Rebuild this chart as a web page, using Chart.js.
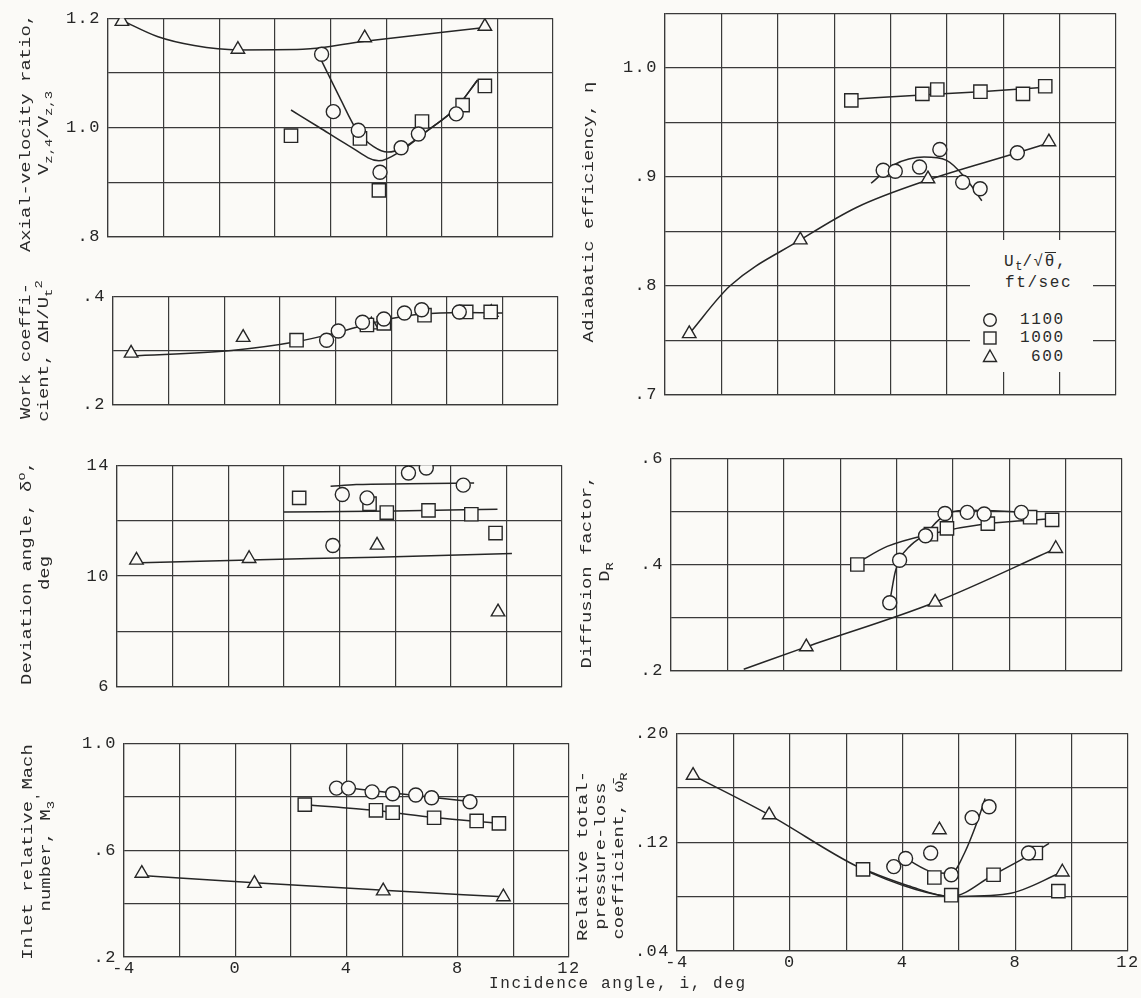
<!DOCTYPE html>
<html><head><meta charset="utf-8">
<script src="https://cdn.jsdelivr.net/npm/chart.js@4.4.1/dist/chart.umd.min.js"></script>
<style>
body{margin:0;background:#fbfaf7;width:1141px;height:998px;position:relative;overflow:hidden;color:#2a2a2a;font-family:"Liberation Mono","DejaVu Sans Mono",monospace}
canvas{position:absolute}
.yt{position:absolute;transform:rotate(-90deg) scaleX(1.26);font-size:15px;line-height:18px;text-align:center;white-space:nowrap}
.yt sub,.yt sup{font-size:11px;line-height:0}
.txt{position:absolute;font-size:16px;letter-spacing:1.6px;white-space:nowrap;line-height:18px}
.mk{position:absolute}
</style></head><body>
<canvas id="c1"></canvas><canvas id="c2"></canvas><canvas id="c3"></canvas><canvas id="c4"></canvas>
<canvas id="c5"></canvas><canvas id="c6"></canvas><canvas id="c7"></canvas>
<div id="overlay">
<div style="position:absolute;left:970px;top:240px;width:123px;height:132px;background:#fbfaf7"></div>
<div class="txt" style="left:1004px;top:253px">U<sub style="font-size:12px;letter-spacing:0">t</sub>/√<span style="text-decoration:overline">θ</span>,</div>
<div class="txt" style="left:1005px;top:274px">ft/sec</div>
<svg class="mk" style="left:982px;top:312px" width="16" height="16"><circle cx="8" cy="8" r="6.3" fill="none" stroke="#262626" stroke-width="1.4"/></svg>
<div class="txt" style="left:1020px;top:311px">1100</div>
<svg class="mk" style="left:982px;top:330px" width="16" height="16"><rect x="2" y="2" width="12" height="12" fill="none" stroke="#262626" stroke-width="1.4"/></svg>
<div class="txt" style="left:1020px;top:329px">1000</div>
<svg class="mk" style="left:982px;top:348px" width="16" height="16"><polygon points="8,2 14.5,13.5 1.5,13.5" fill="none" stroke="#262626" stroke-width="1.4"/></svg>
<div class="txt" style="left:1031px;top:348px">600</div>
<div class="txt" style="left:489px;top:975px">Incidence angle, i, deg</div>
</div>
<script>
// ---- shared axis ----
const incTickValues = [-4, 0, 4, 8, 12];
const incTickText = ['-4', '0', '4', '8', '12'];

// ---- Axial-velocity ratio ----
const avrTickValues = [1.2, 1.0, 0.8];
const avrTickText = ['1.2', '1.0', '.8'];
const avr1100I = [3.68, 4.10, 5.00, 5.78, 6.54, 7.16, 8.52];
const avr1100V = [1.134, 1.029, 0.995, 0.918, 0.963, 0.988, 1.025];
const avr1000I = [2.58, 5.06, 5.74, 7.29, 8.75, 9.55];
const avr1000V = [0.985, 0.980, 0.885, 1.011, 1.041, 1.076];
const avr600I = [-3.50, 0.67, 5.23, 9.55];
const avr600V = [1.194, 1.143, 1.164, 1.185];
const avrFit1100I = [3.68, 4.32, 4.97, 5.55, 6.06, 6.58, 7.48, 8.52, 9.29];
const avrFit1100V = [1.122, 1.056, 0.993, 0.965, 0.955, 0.962, 0.994, 1.036, 1.087];
const avrFit1000I = [2.58, 3.60, 4.65, 5.74, 6.50, 7.50, 8.50, 9.29];
const avrFit1000V = [1.032, 1.000, 0.967, 0.939, 0.956, 0.995, 1.035, 1.087];
const avrFit600I = [-3.50, -2.20, -0.90, 0.67, 3.00, 5.23, 9.55];
const avrFit600V = [1.196, 1.166, 1.150, 1.142, 1.143, 1.158, 1.183];

// ---- Work coefficient ----
const workTickValues = [0.4, 0.2];
const workTickText = ['.4', '.2'];
const work1100I = [3.68, 4.10, 4.97, 5.74, 6.48, 7.10, 8.45];
const work1100V = [0.319, 0.336, 0.352, 0.358, 0.369, 0.375, 0.371];
const work1000I = [2.60, 5.13, 5.74, 7.20, 8.70, 9.58];
const work1000V = [0.319, 0.347, 0.350, 0.365, 0.371, 0.371];
const work600I = [-3.35, 0.68, 5.29, 9.60];
const work600V = [0.295, 0.324, 0.347, 0.370];
const workFitI = [-3.35, 0.26, 2.58, 4.13, 5.68, 7.10, 8.60, 10.0];
const workFitV = [0.290, 0.300, 0.316, 0.334, 0.355, 0.367, 0.370, 0.369];

// ---- Deviation angle ----
const devTickValues = [14, 10, 6];
const devTickText = ['14', '10', '6'];
const dev1100I = [3.76, 4.10, 4.99, 6.48, 7.12, 8.45];
const dev1100V = [11.10, 12.94, 12.82, 13.72, 13.90, 13.28];
const dev1000I = [2.55, 5.08, 5.70, 7.20, 8.74, 9.61];
const dev1000V = [12.82, 12.61, 12.29, 12.37, 12.23, 11.55];
const dev600I = [-3.30, 0.75, 5.35, 9.70];
const dev600V = [10.57, 10.63, 11.11, 8.70];
const devFit1100I = [3.68, 4.60, 6.50, 8.84];
const devFit1100V = [13.24, 13.30, 13.33, 13.36];
const devFit1000I = [2.00, 6.00, 9.68];
const devFit1000V = [12.31, 12.35, 12.41];
const devFit600I = [-3.50, 0.75, 5.35, 10.20];
const devFit600V = [10.47, 10.58, 10.68, 10.81];

// ---- Inlet relative Mach number ----
const machTickValues = [1.0, 0.6, 0.2];
const machTickText = ['1.0', '.6', '.2'];
const mach1100I = [3.64, 4.07, 4.92, 5.66, 6.49, 7.06, 8.44];
const mach1100V = [0.832, 0.832, 0.818, 0.811, 0.806, 0.796, 0.781];
const mach1000I = [2.50, 5.06, 5.66, 7.15, 8.68, 9.48];
const mach1000V = [0.770, 0.749, 0.740, 0.721, 0.709, 0.700];
const mach600I = [-3.36, 0.69, 5.32, 9.64];
const mach600V = [0.513, 0.475, 0.447, 0.425];
const machFit1100I = [3.64, 4.07, 6.00, 8.44];
const machFit1100V = [0.833, 0.831, 0.810, 0.782];
const machFit1000I = [2.50, 5.06, 7.15, 9.48];
const machFit1000V = [0.770, 0.748, 0.722, 0.700];
const machFit600I = [-3.36, 0.69, 5.32, 9.64];
const machFit600V = [0.505, 0.478, 0.450, 0.425];

// ---- Adiabatic efficiency ----
const effTickValues = [1.0, 0.9, 0.8, 0.7];
const effTickText = ['1.0', '.9', '.8', '.7'];
const eff1100I = [3.74, 4.17, 5.03, 5.75, 6.56, 7.18, 8.50];
const eff1100V = [0.906, 0.905, 0.909, 0.925, 0.895, 0.889, 0.922];
const eff1000I = [2.61, 5.13, 5.66, 7.19, 8.70, 9.49];
const eff1000V = [0.970, 0.976, 0.980, 0.978, 0.976, 0.983];
const eff600I = [-3.14, 0.80, 5.33, 9.62];
const eff600V = [0.756, 0.842, 0.898, 0.932];
const effFit1100I = [3.31, 4.13, 5.19, 5.99, 6.65, 7.24];
const effFit1100V = [0.894, 0.911, 0.918, 0.915, 0.899, 0.878];
const effFit1000I = [2.61, 5.13, 7.19, 9.49];
const effFit1000V = [0.971, 0.975, 0.978, 0.982];
const effFit600I = [-3.14, -1.69, 0.80, 2.81, 5.33, 8.50, 9.62];
const effFit600V = [0.756, 0.800, 0.842, 0.872, 0.897, 0.922, 0.931];

// ---- Diffusion factor ----
const diffTickValues = [0.6, 0.4, 0.2];
const diffTickText = ['.6', '.4', '.2'];
const diff1100I = [3.76, 4.11, 5.03, 5.72, 6.51, 7.11, 8.43];
const diff1100V = [0.328, 0.408, 0.454, 0.496, 0.498, 0.495, 0.498];
const diff1000I = [2.61, 5.22, 5.79, 7.24, 8.74, 9.52];
const diff1000V = [0.400, 0.457, 0.468, 0.477, 0.489, 0.484];
const diff600I = [0.80, 5.37, 9.65];
const diff600V = [0.245, 0.329, 0.430];
const diffFit1100I = [3.78, 3.95, 4.11, 4.50, 5.03, 5.50, 5.90, 6.60, 8.43];
const diffFit1100V = [0.336, 0.385, 0.410, 0.436, 0.458, 0.484, 0.498, 0.502, 0.499];
const diffFit1000I = [2.61, 3.67, 5.26, 7.24, 9.52];
const diffFit1000V = [0.403, 0.434, 0.458, 0.477, 0.486];
const diffFit600I = [-1.42, 0.80, 5.37, 9.65];
const diffFit600V = [0.203, 0.245, 0.329, 0.430];

// ---- Relative total-pressure-loss coefficient ----
const lossTickValues = [0.20, 0.12, 0.04];
const lossTickText = ['.20', '.12', '.04'];
const loss1100I = [3.69, 4.11, 5.00, 5.73, 6.47, 7.07, 8.47];
const loss1100V = [0.102, 0.108, 0.112, 0.096, 0.138, 0.146, 0.112];
const loss1000I = [2.60, 5.13, 5.73, 7.23, 8.73, 9.53];
const loss1000V = [0.100, 0.094, 0.081, 0.096, 0.112, 0.084];
const loss600I = [-3.43, -0.73, 5.31, 9.67];
const loss600V = [0.169, 0.140, 0.129, 0.098];
const lossFit1100I = [4.11, 5.07, 5.73, 6.20, 6.67, 6.93];
const lossFit1100V = [0.108, 0.098, 0.097, 0.112, 0.136, 0.152];
const lossFit1000I = [2.60, 4.20, 5.73, 7.23, 8.47, 9.20];
const lossFit1000V = [0.100, 0.088, 0.080, 0.096, 0.110, 0.119];
const lossFit600I = [-3.43, -0.73, 2.40, 4.50, 5.73, 7.73, 9.67];
const lossFit600V = [0.169, 0.140, 0.102, 0.085, 0.080, 0.082, 0.098];

// ---- drawing ----
const BG = '#fbfaf7', INK = '#262626', GRID = '#3a3a3a';
const FONT = "'Liberation Mono', 'DejaVu Sans Mono', monospace";
const MARK = {
  c: {pointStyle: 'circle', pointRadius: 7},
  s: {pointStyle: 'rect', pointRadius: 9.4},
  t: {pointStyle: 'triangle', pointRadius: 7.8}
};
const pts = (xs, ys) => xs.map((x, i) => ({x, y: ys[i]}));
const spacing = {id: 'spacing', beforeDraw: ch => { ch.ctx.letterSpacing = '1.5px'; }};

function panel(id, box, ymin, ymax, ystep, tv, tt, marks, fits, showX) {
  const YW = 70, PT = 14, PR = 16, PB = 10, XH = 26;
  const c = document.getElementById(id);
  const W = box.w + YW + PR, H = box.h + PT + (showX ? XH : PB);
  c.width = W; c.height = H;
  c.style.left = (box.x - YW) + 'px'; c.style.top = (box.y - PT) + 'px';
  c.style.width = W + 'px'; c.style.height = H + 'px';
  const datasets = [];
  marks.forEach(m => datasets.push(Object.assign({
    data: pts(m[1], m[2]), showLine: false, pointBorderWidth: 1.4,
    pointBorderColor: INK, pointBackgroundColor: BG, order: 0
  }, MARK[m[0]])));
  fits.forEach(f => datasets.push({
    data: pts(f[0], f[1]), showLine: true, pointRadius: 0, borderColor: INK,
    borderWidth: 1.5, cubicInterpolationMode: 'monotone', fill: false, order: 1
  }));
  const gridOpt = {color: GRID, lineWidth: 1.2, drawTicks: false};
  const borderOpt = {color: GRID, width: 1.2};
  new Chart(c, {
    type: 'scatter',
    data: {datasets},
    plugins: [spacing],
    options: {
      responsive: false, animation: false, devicePixelRatio: 1, events: [],
      layout: {padding: {top: PT, right: PR, bottom: showX ? 0 : PB, left: 0}},
      plugins: {legend: {display: false}, tooltip: {enabled: false}},
      scales: {
        x: {type: 'linear', min: -4, max: 12,
          afterFit: s => { s.height = showX ? XH : 0; },
          ticks: {display: showX, stepSize: 2, autoSkip: false, maxRotation: 0, padding: 1,
            color: INK, font: {family: FONT, size: 17},
            callback: v => { const k = incTickValues.findIndex(t => Math.abs(t - v) < 1e-6); return k < 0 ? '' : incTickText[k]; }},
          grid: gridOpt, border: borderOpt},
        y: {type: 'linear', min: ymin, max: ymax,
          afterFit: s => { s.width = YW; },
          ticks: {stepSize: ystep, autoSkip: false, padding: 7, color: INK, font: {family: FONT, size: 17},
            callback: v => { const k = tv.findIndex(t => Math.abs(t - v) < 1e-6); return k < 0 ? '' : tt[k]; }},
          grid: gridOpt, border: borderOpt}
      }
    }
  });
}

panel('c1', {x: 108, y: 15, w: 445, h: 229}, 0.8, 1.2, 0.1, avrTickValues, avrTickText,
  [['c', avr1100I, avr1100V], ['s', avr1000I, avr1000V], ['t', avr600I, avr600V]],
  [[avrFit1100I, avrFit1100V], [avrFit1000I, avrFit1000V], [avrFit600I, avrFit600V]], false);
panel('c2', {x: 113, y: 293, w: 445, h: 119}, 0.2, 0.4, 0.1, workTickValues, workTickText,
  [['c', work1100I, work1100V], ['s', work1000I, work1000V], ['t', work600I, work600V]],
  [[workFitI, workFitV]], false);
panel('c3', {x: 117, y: 462, w: 445, h: 232}, 6, 14, 2, devTickValues, devTickText,
  [['c', dev1100I, dev1100V], ['s', dev1000I, dev1000V], ['t', dev600I, dev600V]],
  [[devFit1100I, devFit1100V], [devFit1000I, devFit1000V], [devFit600I, devFit600V]], false);
panel('c4', {x: 124, y: 740, w: 445, h: 217}, 0.2, 1.0, 0.2, machTickValues, machTickText,
  [['c', mach1100I, mach1100V], ['s', mach1000I, mach1000V], ['t', mach600I, mach600V]],
  [[machFit1100I, machFit1100V], [machFit1000I, machFit1000V], [machFit600I, machFit600V]], true);
panel('c5', {x: 665, y: 10, w: 451, h: 392}, 0.7, 1.05, 0.05, effTickValues, effTickText,
  [['c', eff1100I, eff1100V], ['s', eff1000I, eff1000V], ['t', eff600I, eff600V]],
  [[effFit1100I, effFit1100V], [effFit1000I, effFit1000V], [effFit600I, effFit600V]], false);
panel('c6', {x: 671, y: 455, w: 451, h: 223}, 0.2, 0.6, 0.1, diffTickValues, diffTickText,
  [['c', diff1100I, diff1100V], ['s', diff1000I, diff1000V], ['t', diff600I, diff600V]],
  [[diffFit1100I, diffFit1100V], [diffFit1000I, diffFit1000V], [diffFit600I, diffFit600V]], false);
panel('c7', {x: 677, y: 730, w: 451, h: 221}, 0.04, 0.20, 0.04, lossTickValues, lossTickText,
  [['c', loss1100I, loss1100V], ['s', loss1000I, loss1000V], ['t', loss600I, loss600V]],
  [[lossFit1100I, lossFit1100V], [lossFit1000I, lossFit1000V], [lossFit600I, lossFit600V]], true);

// legend and axis title above the charts
document.body.appendChild(document.getElementById('overlay'));

function ytitle(html, cx, cy, w, n) {
  const d = document.createElement('div');
  d.className = 'yt'; d.innerHTML = html;
  const h = n * 18;
  d.style.left = (cx - w / 2) + 'px'; d.style.top = (cy - h / 2) + 'px';
  d.style.width = w + 'px'; d.style.height = h + 'px';
  document.body.appendChild(d);
}
ytitle('Axial-velocity ratio,<br>V<sub>z,4</sub>/V<sub>z,3</sub>', 36, 133, 240, 2);
ytitle('Work coeffi-<br>cient, ΔH/U<sub>t</sub><sup>2</sup>', 36, 351, 150, 2);
ytitle('Deviation angle, δ<sup>o</sup>,<br>deg', 37, 573, 220, 2);
ytitle('Inlet relative Mach<br>number, M<sub>3</sub><sup>\'</sup>', 38, 852, 220, 2);
ytitle('Adiabatic efficiency, η', 590, 212, 260, 1);
ytitle('Diffusion factor,<br>D<sub>R</sub>', 597, 572, 200, 2);
ytitle('Relative total-<br>pressure-loss<br>coefficient, ω̄<sub>R</sub>', 602, 856, 200, 3);
</script>
</body></html>
